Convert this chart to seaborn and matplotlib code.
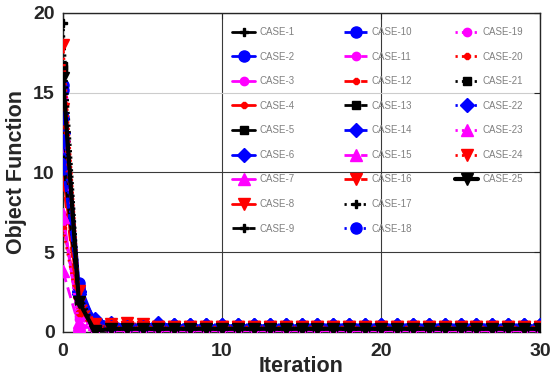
import numpy as np
import pandas as pd
import matplotlib
matplotlib.use("Agg")
import matplotlib.pyplot as plt
import seaborn as sns
from matplotlib.legend_handler import HandlerLine2D

sns.set_theme(style="white")
plt.rcParams['font.family'] = ['Liberation Sans', 'DejaVu Sans']

iterations = list(range(0, 31))
case_names = [f"CASE-{i}" for i in range(1, 26)]

heads = [
    [16.3, 2.2, 0.3],
    [15.5, 3.1, 0.6, 0.4],
    [11.8, 1.2, 0.1],
    [6.8, 1.5, 0.3, 0.4, 0.4],
    [16.7, 2.0, 0.3],
    [12.5, 2.6, 0.8, 0.55, 0.4, 0.4, 0.55],
    [7.4, 0.6, 0.05],
    [10.0, 1.8, 0.2],
    [13.0, 2.1, 0.2],
    [15.2, 2.8, 0.5],
    [14.7, 1.0, 0.1],
    [9.5, 1.4, 0.4, 0.5, 0.5, 0.5],
    [10.9, 1.9, 0.3],
    [10.5, 2.4, 0.7, 0.5],
    [3.8, 0.4, 0.0],
    [14.0, 2.3, 0.4, 0.5, 0.55, 0.5],
    [19.4, 2.5, 0.3],
    [13.5, 2.7, 0.5],
    [7.0, 0.8, 0.1],
    [6.5, 1.2, 0.2],
    [16.5, 2.0, 0.3],
    [12.0, 2.5, 0.6, 0.3, 0.3, 0.3, 0.45],
    [7.2, 0.5, 0.05],
    [18.0, 2.6, 0.5],
    [15.9, 1.9, 0.05],
]
tails = [0.15, 0.35, 0.05, 0.3, 0.2, 0.4, 0.0, 0.3,
         0.15, 0.3, 0.05, 0.3, 0.2, 0.45, 0.0, 0.3,
         0.15, 0.3, 0.05, 0.25, 0.2, 0.45, 0.0, 0.3, 0.2]

colors = ['#000000', '#0000FF', '#FF00FF', '#FF0000']
marker_cycle = ['P', 'o', 'o', '8', 's', 'D', '^', 'v']
msize_cycle = [6, 8, 6, 5, 6, 7, 8, 8]
line_styles = ['-', (0, (4, 2)), (0, (0.8, 1.5))]

fig = plt.figure(figsize=(5.51, 3.78), dpi=100)
ax = fig.add_axes([63/551, 1-332/378, (540-63)/551, (332-13)/378])

handles = []
for i, name in enumerate(case_names):
    y = heads[i] + [tails[i]] * (len(iterations) - len(heads[i]))
    if i == 24:
        color, marker, ms, ls, lw = '#000000', 'v', 8, '-', 3
    else:
        color = colors[i % 4]
        marker = marker_cycle[i % 8]
        ms = msize_cycle[i % 8]
        ls = line_styles[i // 8]
        lw = 2
    sns.lineplot(x=iterations, y=y, ax=ax, color=color, marker=marker,
                 markersize=ms, markeredgecolor=color, markeredgewidth=1,
                 linewidth=lw, label=name, legend=False, zorder=3 + i)
    line = ax.lines[-1]
    line.set_linestyle(ls)
    line.set_dash_capstyle('butt')
    handles.append(line)


class LeftMarker(HandlerLine2D):
    def get_xdata(self, legend, xdescent, ydescent, width, height, fontsize):
        xdata = np.array([-xdescent, -xdescent + width])
        return xdata, np.array([-xdescent + 0.35 * width])


ax.set_xlim(0, 30)
ax.set_ylim(0, 20)
ax.set_xticks([0, 10, 20, 30])
ax.set_yticks([0, 5, 10, 15, 20])
ax.grid(True, color='#3a3a3a', linewidth=0.8)
for gl, v in zip(ax.yaxis.get_gridlines(), [0, 5, 10, 15, 20]):
    if v == 15:
        gl.set_color('#cccccc')
ax.set_axisbelow(True)
for s in ax.spines.values():
    s.set_color('#262626')
    s.set_linewidth(1)
ax.tick_params(direction='in', top=True, right=True, length=4, width=0.8,
               labelsize=14, colors='#262626')
ax.tick_params(axis='x', pad=8)
ax.tick_params(axis='y', pad=6)
for t in ax.get_xticklabels() + ax.get_yticklabels():
    t.set_fontweight('bold')
    t.set_color('#262626')
ax.set_xlabel('Iteration', fontsize=15.5, fontweight='bold', color='#262626', labelpad=-3)
ax.set_ylabel('Object Function', fontsize=15.5, fontweight='bold', color='#262626', labelpad=4)

# three legend columns placed at the reference's column positions
col_x = [232, 344, 455]
groups = [range(0, 9), range(9, 18), range(18, 25)]
top_y = 1 - (27 - 13) / 319
for n, (cx, g) in enumerate(zip(col_x, groups)):
    leg = ax.legend([handles[k] for k in g], [case_names[k] for k in g],
                    loc='upper left', bbox_to_anchor=((cx - 63) / 477, top_y),
                    frameon=False, fontsize=7, borderpad=0, borderaxespad=0,
                    handlelength=2.4, handletextpad=0.4,
                    labelspacing=1.5, numpoints=1,
                    handler_map={matplotlib.lines.Line2D: LeftMarker()})
    for t in leg.get_texts():
        t.set_color('#808080')
    leg.set_zorder(50)
    if n < 2:
        ax.add_artist(leg)

fig.savefig('out.png', dpi=100)
